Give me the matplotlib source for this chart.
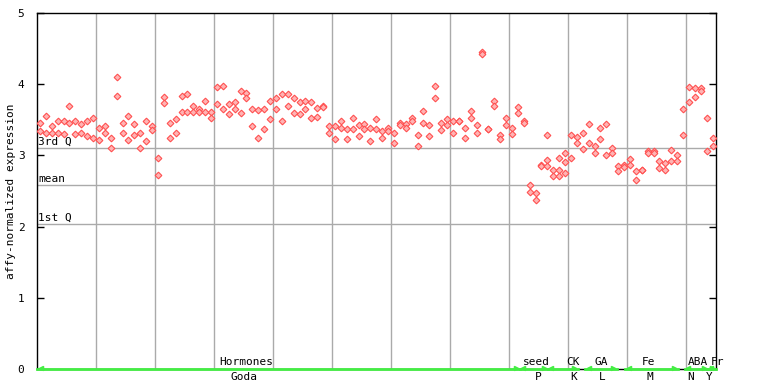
import matplotlib
matplotlib.use("Agg")
import matplotlib.pyplot as plt
import numpy as np

# 값 (열마다 반복 측정 2개, 일부 열은 3개)
upper = [3.46, 3.56, 3.41, 3.49, 3.48, 3.69, 3.48, 3.44, 3.49, 3.52,
         3.39, 3.41, 3.25, 4.10, 3.45, 3.55, 3.44, 3.31, 3.48, 3.41,
         2.96, 3.82, 3.45, 3.51, 3.84, 3.86, 3.69, 3.65, 3.76, 3.61,
         3.96, 3.98, 3.72, 3.75, 3.90, 3.87, 3.65, 3.64, 3.65, 3.77,
         3.80, 3.86, 3.86, 3.80, 3.75, 3.77, 3.75, 3.66, 3.70, 3.41,
         3.41, 3.49, 3.37, 3.53, 3.42, 3.44, 3.39, 3.51, 3.34, 3.38,
         3.32, 3.46, 3.44, 3.53, 3.29, 3.62, 3.42, 3.97, 3.45, 3.51,
         3.49, 3.48, 3.38, 3.62, 3.42, 4.45, 3.37, 3.77, 3.28, 3.53,
         3.39, 3.68, 3.49, 2.58, 2.47, 2.87, 3.29, 2.79, 2.96, 3.03,
         3.28, 3.26, 3.32, 3.44, 3.13, 3.38, 3.44, 3.11, 2.85, 2.86,
         2.95, 2.78, 2.79, 3.06, 3.06, 2.92, 2.90, 3.07, 3.00, 3.65,
         3.96, 3.94, 3.94, 3.53, 3.25]
lower = [3.34, 3.32, 3.31, 3.31, 3.30, 3.45, 3.30, 3.31, 3.27, 3.25,
         3.21, 3.31, 3.11, 3.84, 3.32, 3.21, 3.28, 3.11, 3.20, 3.35,
         2.72, 3.73, 3.24, 3.32, 3.61, 3.61, 3.61, 3.61, 3.61, 3.52,
         3.72, 3.65, 3.58, 3.65, 3.59, 3.80, 3.41, 3.24, 3.37, 3.51,
         3.65, 3.49, 3.69, 3.59, 3.58, 3.65, 3.53, 3.54, 3.68, 3.32,
         3.23, 3.38, 3.23, 3.37, 3.27, 3.37, 3.20, 3.37, 3.24, 3.34,
         3.18, 3.42, 3.38, 3.48, 3.13, 3.46, 3.27, 3.80, 3.35, 3.42,
         3.32, 3.48, 3.25, 3.53, 3.32, 4.42, 3.37, 3.70, 3.23, 3.42,
         3.30, 3.59, 3.46, 2.48, 2.38, 2.85, 2.93, 2.71, 2.79, 2.91,
         2.96, 3.18, 3.09, 3.18, 3.03, 3.23, 3.01, 3.04, 2.78, 2.84,
         2.87, 2.66, 2.79, 3.04, 3.03, 2.82, 2.79, 2.92, 2.92, 3.28,
         3.75, 3.82, 3.90, 3.06, 3.13]
extra_cols = [86, 88, 89]
extra_vals = [2.85, 2.71, 2.75]

q3 = 3.10
mean_val = 2.58
q1 = 2.03

# 실험 그룹 (시작 열, 끝 열, 위 라벨, 아래 라벨)
groups = ["Hormones", "seed", "CK", "GA", "Fe", "ABA", "Fr"]
subs = ["Goda", "P", "K", "L", "M", "N", "Y"]
g_start = [0.0, 81.8, 86.6, 92.9, 99.7, 109.8, 113.6]
g_end = [81.8, 86.6, 91.7, 98.3, 108.6, 113.6, 115.0]
g_label_x = [35.4, 84.7, 90.8, 95.6, 103.7, 112.0, 115.4]
s_label_x = [35.1, 84.9, 91.0, 95.8, 103.9, 110.8, 113.9]

mono = "DejaVu Sans Mono"
fs = 8

fig = plt.figure(figsize=(7.68, 3.84), dpi=100)
ax = fig.add_axes([37 / 768, 1 - 369 / 384, (715.5 - 37) / 768, (369 - 13) / 384])

n = len(upper)
x = np.arange(n) + 0.5
ax.set_xlim(0, n)
ax.set_ylim(0, 5)

# 격자
for gx in range(10, n, 10):
    ax.axvline(gx, color="#aaaaaa", lw=1, zorder=1)
for hy in [q3, mean_val, q1]:
    ax.axhline(hy, color="#aaaaaa", lw=1, zorder=1)

ax.text(0.15, q3 + 0.02, "3rd Q", family=mono, fontsize=fs, va="bottom", ha="left")
ax.text(0.15, mean_val + 0.02, "mean", family=mono, fontsize=fs, va="bottom", ha="left")
ax.text(0.15, q1 + 0.02, "1st Q", family=mono, fontsize=fs, va="bottom", ha="left")

mk = dict(marker="D", ms=3.4, mfc="#ffb4b4", mec="#ff5050", mew=0.8, ls="none", zorder=3)
ax.plot(x, upper, **mk)
ax.plot(x, lower, **mk)
ax.plot(np.array(extra_cols) + 0.5, extra_vals, **mk)

# 그룹 표시 (녹색 선)
for s, e, g, gx_, sub, sx in zip(g_start, g_end, groups, g_label_x, subs, s_label_x):
    ax.plot([s, e], [0, 0], color="#44ee44", lw=2, clip_on=False, zorder=4)
    ax.plot([s + 0.6], [0.02], marker="<", ms=3, color="#44ee44", clip_on=False, zorder=4)
    ax.plot([e - 0.6], [0.02], marker=">", ms=3, color="#44ee44", clip_on=False, zorder=4)
    ax.text(gx_, 0.03, g, family=mono, fontsize=fs, ha="center", va="bottom")
    ax.text(sx, -0.04, sub, family=mono, fontsize=fs, ha="center", va="top")

ax.set_xticks([])
ax.set_yticks([0, 1, 2, 3, 4, 5])
ax.tick_params(axis="y", direction="in", length=5, width=1, right=True, labelsize=fs, pad=9)
for lab in ax.get_yticklabels():
    lab.set_family(mono)
for sp in ax.spines.values():
    sp.set_color("black")
    sp.set_linewidth(1)

# y축 제목
fig.text(11 / 768, 1 - 191 / 384, "affy-normalized expression", family=mono, fontsize=fs,
         rotation=90, ha="center", va="center")

fig.savefig("out.png", dpi=100)
